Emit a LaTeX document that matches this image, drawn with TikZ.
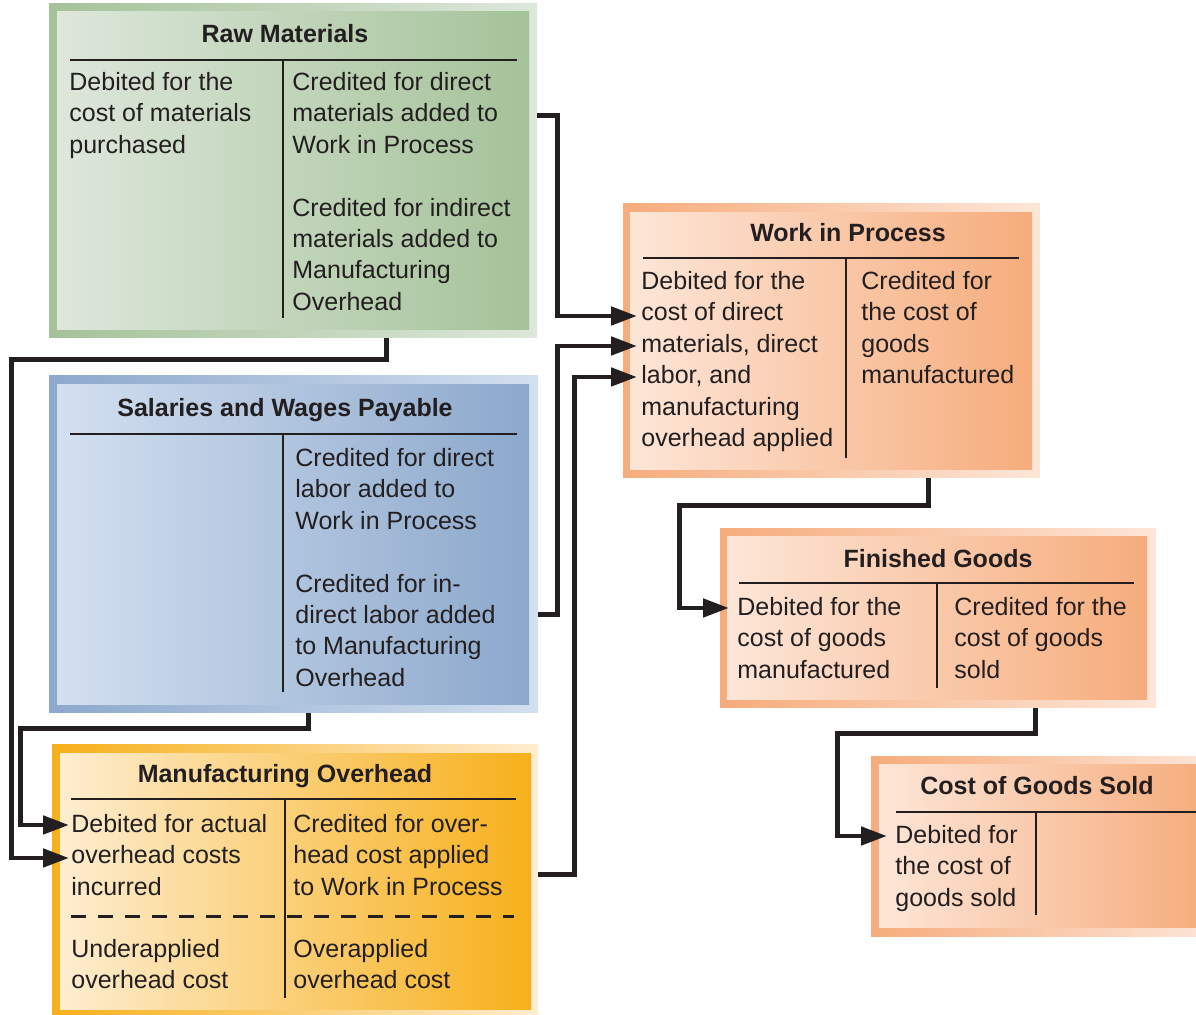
\documentclass[tikz,border=0pt]{standalone}
\usepackage{fontspec}
\setmainfont{Liberation Sans}
\usetikzlibrary{arrows.meta,fit}

\definecolor{grnlt}{HTML}{DDE7DB}
\definecolor{grndk}{HTML}{A5C299}
\definecolor{blult}{HTML}{D3E0F0}
\definecolor{bludk}{HTML}{8CA8CC}
\definecolor{ambl}{HTML}{FEEDD0}
\definecolor{ambd}{HTML}{F7B01B}
\definecolor{salt}{HTML}{FDE6D8}
\definecolor{sald}{HTML}{F6AC7C}
\definecolor{ink}{HTML}{231F20}

\tikzset{
  acct/.style={rectangle, inner sep=0pt, draw=none},
  cell/.style={anchor=north west, align=left, inner sep=0pt, text=ink,
    font=\fontsize{12.5}{15.7}\selectfont, execute at begin node=\strut},
  head/.style={anchor=base, inner sep=0pt, text=ink,
    font=\bfseries\fontsize{12.5}{15}\selectfont},
  tline/.style={draw=ink, line width=1.3pt},
  flow/.style={->, draw=ink, line width=2.4pt},
}

\begin{document}
\begin{tikzpicture}[x=0.5pt, y=-0.5pt, >={Triangle[length=13pt,width=9pt]}]
  \useasboundingbox (0,0) rectangle (1196,1015);

  % Raw Materials
  \node (rm) [acct, left color=grndk, right color=grnlt, fit={(49,4) (537,338)}] {};
  \node (rmin) [acct, left color=grnlt, middle color=grndk!70!grnlt, right color=grndk, fit={(57,12) (529,330)}] {};
  \node (rmt) [head] at (285,43) {Raw Materials};
  \draw[tline] (70,60) -- (517,60);
  \draw[tline] (283,60) -- (283,318);
  \node (rmdr) [cell] at (69,72) {Debited for the\\cost of materials\\purchased};
  \node (rmcr) [cell] at (292,72) {Credited for direct\\materials added to\\Work in Process\\[15.7pt]Credited for indirect\\materials added to\\Manufacturing\\Overhead};

  % Salaries and Wages Payable
  \node (swp) [acct, left color=bludk, right color=blult, fit={(49,376) (538,713)}] {};
  \node (swpin) [acct, left color=blult, middle color=bludk!35!blult, right color=bludk, fit={(57,385) (529,705)}] {};
  \node (swpt) [head] at (285,417) {Salaries and Wages Payable};
  \draw[tline] (70,434) -- (517,434);
  \draw[tline] (283,434) -- (283,692);
  \node (swpcr) [cell] at (295,448) {Credited for direct\\labor added to\\Work in Process\\[15.7pt]Credited for in-\\direct labor added\\to Manufacturing\\Overhead};

  % Manufacturing Overhead
  \node (mo) [acct, left color=ambd, right color=ambl, fit={(52,745) (538,1022)}] {};
  \node (moin) [acct, left color=ambl, middle color=ambd!30!ambl, right color=ambd, fit={(60,754) (531,1010)}] {};
  \node (mot) [head] at (285,783) {Manufacturing Overhead};
  \draw[tline] (71,799) -- (516,799);
  \draw[tline] (285,799) -- (285,998);
  \draw[tline, line width=1.5pt, dash pattern=on 7.5pt off 6pt] (71,917) -- (514,917);
  \node (modr) [cell] at (71,814) {Debited for actual\\overhead costs\\incurred};
  \node (mocr) [cell] at (293,814) {Credited for over-\\head cost applied\\to Work in Process};
  \node (moub) [cell] at (71,939) {Underapplied\\overhead cost};
  \node (moob) [cell] at (293,939) {Overapplied\\overhead cost};

  % Work in Process
  \node (wip) [acct, left color=sald, right color=salt, fit={(623,204) (1040,478)}] {};
  \node (wipin) [acct, left color=salt, middle color=sald!75!salt, right color=sald, fit={(630,213) (1032,470)}] {};
  \node (wipt) [head] at (848,242) {Work in Process};
  \draw[tline] (643,258) -- (1019,258);
  \draw[tline] (846,258) -- (846,458);
  \node (wipdr) [cell] at (641,271) {Debited for the\\cost of direct\\materials, direct\\labor, and\\manufacturing\\overhead applied};
  \node (wipcr) [cell] at (861,271) {Credited for\\the cost of\\goods\\manufactured};

  % Finished Goods
  \node (fg) [acct, left color=sald, right color=salt, fit={(720,529) (1156,708)}] {};
  \node (fgin) [acct, left color=salt, middle color=sald!75!salt, right color=sald, fit={(727,537) (1147,700)}] {};
  \node (fgt) [head] at (938,568) {Finished Goods};
  \draw[tline] (739,583) -- (1134,583);
  \draw[tline] (937,583) -- (937,688);
  \node (fgdr) [cell] at (737,597) {Debited for the\\cost of goods\\manufactured};
  \node (fgcr) [cell] at (954,597) {Credited for the\\cost of goods\\sold};

  % Cost of Goods Sold
  \node (cogs) [acct, left color=sald, right color=salt, fit={(871,757) (1215,937)}] {};
  \node (cogsin) [acct, left color=salt, middle color=sald!75!salt, right color=sald, fit={(879,765) (1205,928)}] {};
  \node (cogst) [head] at (1037,795) {Cost of Goods Sold};
  \draw[tline] (896,812) -- (1196,812);
  \draw[tline] (1036,812) -- (1036,915);
  \node (cogsdr) [cell] at (895,825) {Debited for\\the cost of\\goods sold};

  % arrow ends
  \coordinate (wipin1) at (637,316);
  \coordinate (wipin2) at (637,346);
  \coordinate (wipin3) at (637,377);
  \coordinate (moin1) at (69,825);
  \coordinate (moin2) at (69,858);
  \coordinate (fgend) at (729,608);
  \coordinate (cogsend) at (887,836);

  % flows
  \draw[flow] ([yshift=-56pt]rm.north east) -- ++(20,0) |- (wipin1);
  \draw[flow] ([yshift=-119.5pt]swp.north east) -- ++(19,0) |- (wipin2);
  \draw[flow] ([yshift=-65pt]mo.north east) -- ++(36,0) |- (wipin3);
  \draw[flow] ([xshift=169pt]rm.south west) -- ++(0,21) -- ++(-375,0) |- (moin2);
  \draw[flow] ([xshift=130pt]swp.south west) -- ++(0,15) -- ++(-288,0) |- (moin1);
  \draw[flow] ([xshift=153pt]wip.south west) -- ++(0,27) -- ++(-249,0) |- (fgend);
  \draw[flow] ([xshift=158pt]fg.south west) -- ++(0,25) -- ++(-198,0) |- (cogsend);
\end{tikzpicture}
\end{document}
